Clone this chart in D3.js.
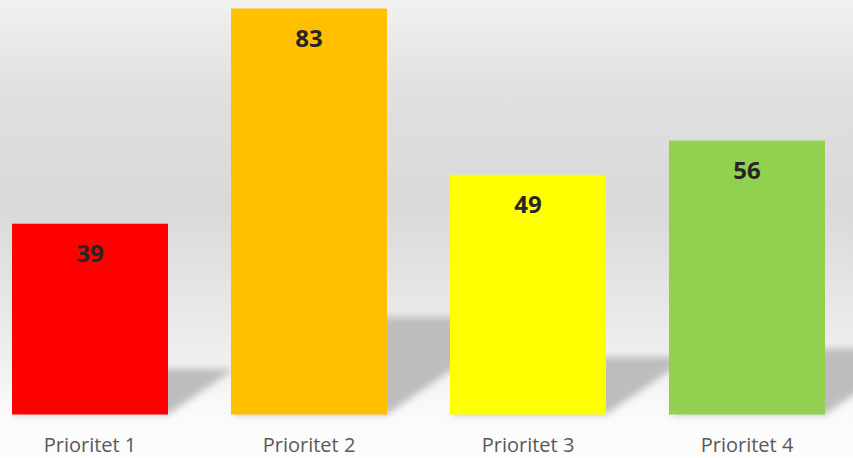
<!DOCTYPE html>
<html>
<head>
<meta charset="utf-8">
<script src="https://cdn.jsdelivr.net/npm/d3@7"></script>
<style>
  html, body { margin: 0; padding: 0; background: #fff; }
  svg { display: block; }
</style>
</head>
<body>
<svg id="chart"></svg>
<script>
// chart data
const categories = ['Prioritet 1', 'Prioritet 2', 'Prioritet 3', 'Prioritet 4'];
const values = [39, 83, 49, 56];
const barColors = ['#ff0000', '#ffc000', '#ffff00', '#92d050'];

const width = 853, height = 458;
const baseline = 414.5;

const svg = d3.select('#chart')
    .attr('width', width)
    .attr('height', height);

const defs = svg.append('defs');

// wall / floor background gradient
const bg = defs.append('linearGradient')
    .attr('id', 'bg')
    .attr('x1', 0).attr('y1', 0).attr('x2', 0).attr('y2', 1);
[[0, '#f1f1f1'], [0.2, '#e0e0e0'], [0.45, '#d9d9d9'], [0.62, '#e4e4e4'],
 [0.78, '#efefef'], [0.9, '#fafafa'], [1, '#fdfdfd']]
  .forEach(s => bg.append('stop').attr('offset', s[0]).attr('stop-color', s[1]));

const blur = defs.append('filter')
    .attr('id', 'blur')
    .attr('x', '-20%').attr('y', '-20%').attr('width', '140%').attr('height', '140%');
blur.append('feGaussianBlur').attr('stdDeviation', 3.5);

svg.append('rect')
    .attr('width', width)
    .attr('height', height)
    .attr('fill', 'url(#bg)');

// scales
const x = d3.scaleBand()
    .domain(categories)
    .range([-19.5, 856.5])
    .paddingInner(0.2877)
    .paddingOuter(0.1438);

const y = d3.scaleLinear()
    .domain([0, 83])
    .range([baseline, 8.5]);

const data = categories.map((c, i) => ({cat: c, value: values[i], color: barColors[i]}));

// floor shadows, sheared up and to the right
const shadowK = 0.24, shear = 1.45;
svg.append('g')
    .attr('filter', 'url(#blur)')
  .selectAll('path')
  .data(data)
  .join('path')
    .attr('fill', '#bdbdbd')
    .attr('d', d => {
      const x0 = x(d.cat), x1 = x0 + x.bandwidth();
      const hh = (baseline - y(d.value)) * shadowK;
      const dx = hh * shear;
      return `M${x0},${baseline}L${x1},${baseline}L${x1 + dx},${baseline - hh}L${x0 + dx},${baseline - hh}Z`;
    });

// bars
svg.selectAll('.bar')
  .data(data)
  .join('rect')
    .attr('class', 'bar')
    .attr('x', d => x(d.cat))
    .attr('y', d => y(d.value))
    .attr('width', x.bandwidth())
    .attr('height', d => baseline - y(d.value))
    .attr('fill', d => d.color);

// value labels
svg.selectAll('.val')
  .data(data)
  .join('text')
    .attr('class', 'val')
    .attr('x', d => x(d.cat) + x.bandwidth() / 2)
    .attr('y', d => y(d.value) + 38.5)
    .attr('text-anchor', 'middle')
    .style('font-family', '"Open Sans", sans-serif')
    .style('font-weight', 'bold')
    .style('font-size', '24px')
    .style('fill', '#262626')
    .text(d => d.value);

// category axis (no line, no ticks)
const xAxis = d3.axisBottom(x).tickSize(0).tickPadding(0);
const axisG = svg.append('g')
    .attr('transform', `translate(0,${baseline})`)
    .call(xAxis);
axisG.select('.domain').remove();
axisG.selectAll('text')
    .attr('dy', null)
    .attr('y', 37.8)
    .style('font-family', '"Open Sans", sans-serif')
    .style('font-size', '20px')
    .style('fill', '#595959');
</script>
</body>
</html>
